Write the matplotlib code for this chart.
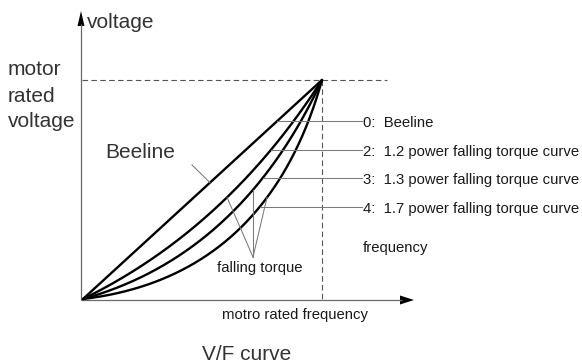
import numpy as np
import matplotlib
matplotlib.use("Agg")
import matplotlib.pyplot as plt
from matplotlib.patches import Polygon

plt.rcParams['font.family'] = ['Liberation Sans', 'DejaVu Sans']

# V/F curves: normalised frequency/voltage, drawn as quadratic Bezier arcs
# from the origin to the rated point (1, 1); ctrl_* are the control points.
curve_ids = ["0", "2", "3", "4"]
curve_names = ["Beeline",
               "1.2 power falling torque curve",
               "1.3 power falling torque curve",
               "1.7 power falling torque curve"]
ctrl_f = [0.50, 0.60, 0.66, 0.77]
ctrl_v = [0.50, 0.32, 0.20, 0.10]

# pixel layout of the diagram (origin and rated point)
W, H = 582, 364
X0, Y0 = 83, 299
X1, Y1 = 322, 80
SX, SY = X1 - X0, Y0 - Y1


def fx(x):
    return (x - X0) / SX


def vy(y):
    return (Y0 - y) / SY


fig = plt.figure(figsize=(W / 100, H / 100), dpi=100)
ax = fig.add_axes([0, 0, 1, 1])
ax.set_xlim(fx(0), fx(W))
ax.set_ylim(vy(H), vy(0))
ax.axis("off")

axis_col = "#6a6a6a"
thin_col = "#7a7a7a"
text_col = "#1a1a1a"
big_col = "#333333"
small = 10.7

# axes with arrow heads
ax.plot([fx(81), fx(81)], [vy(300), vy(24)], color=axis_col, lw=0.9, solid_capstyle="butt")
ax.add_patch(Polygon([[fx(81), vy(11)], [fx(77.5), vy(26)], [fx(84.5), vy(26)]],
                     closed=True, color="black", lw=0))
ax.plot([fx(81), fx(402)], [vy(300), vy(300)], color=axis_col, lw=0.9, solid_capstyle="butt")
ax.add_patch(Polygon([[fx(414), vy(300)], [fx(400), vy(295.5)], [fx(400), vy(304.5)]],
                     closed=True, color="black", lw=0))

# rated voltage / rated frequency guides
ax.plot([fx(82), fx(387)], [1, 1], color="#555555", lw=0.8, dashes=(5, 3))
ax.plot([1, 1], [1, vy(300)], color="#555555", lw=0.8, dashes=(5, 3))

# curves
t = np.linspace(0, 1, 400)
curves = []
for cf, cv in zip(ctrl_f, ctrl_v):
    f = 2 * t * (1 - t) * cf + t ** 2
    v = 2 * t * (1 - t) * cv + t ** 2
    curves.append((f, v))
    ax.plot(f, v, color="black", lw=1.7, solid_capstyle="round")

# leader lines and labels on the right
label_y = [121, 150, 178, 207]
for (f, v), cid, name, ly in zip(curves, curve_ids, curve_names, label_y):
    start = np.interp(vy(ly), v, f)
    ax.plot([start, fx(362)], [vy(ly), vy(ly)], color=thin_col, lw=0.75)
    ax.text(fx(363), vy(ly + 2), f"{cid}:  {name}", fontsize=small,
            color=text_col, ha="left", va="center")

ax.text(fx(363), vy(248), "frequency", fontsize=small, color=text_col,
        ha="left", va="center")

# "Beeline" pointer
bf, bv = curves[0]
ax.plot([fx(192), fx(210)], [vy(165), np.interp(fx(210), bf, bv)],
        color=thin_col, lw=0.75)
ax.text(fx(105), vy(153), "Beeline", fontsize=15, color=big_col,
        ha="left", va="center")

# "falling torque" pointers
apex = (fx(253), vy(257))
for (f, v), px in zip(curves[1:], [227, 253, 267]):
    ax.plot([apex[0], fx(px)], [apex[1], np.interp(fx(px), f, v)],
            color=thin_col, lw=0.75)
ax.text(fx(260), vy(268), "falling torque", fontsize=small, color=text_col,
        ha="center", va="center")

# axis texts
ax.text(fx(87), vy(23), "voltage", fontsize=15, color=big_col, ha="left", va="center")
for word, yy in zip(["motor", "rated", "voltage"], [70, 96, 122]):
    ax.text(fx(8), vy(yy), word, fontsize=15, color=big_col, ha="left", va="center")
ax.text(fx(222), vy(315), "motro rated frequency", fontsize=small, color=text_col,
        ha="left", va="center")
ax.text(fx(247), vy(354), "V/F curve", fontsize=15, color=big_col,
        ha="center", va="center")

fig.savefig("out.png", dpi=100, facecolor="white")
